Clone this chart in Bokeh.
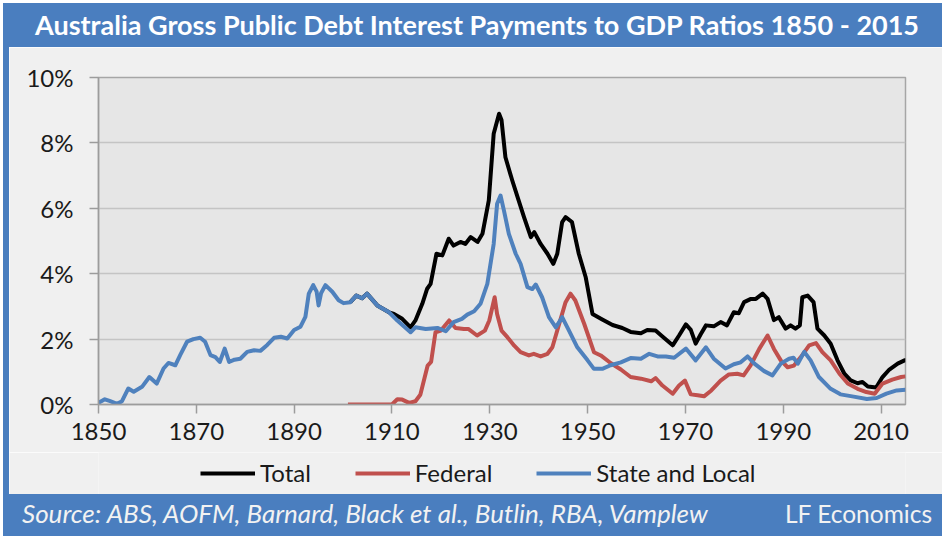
from bokeh.plotting import figure
from bokeh.models import Range1d, FixedTicker, PrintfTickFormatter, Legend, LegendItem, Div
from bokeh.layouts import column, row
from bokeh.embed import file_html
from bokeh.resources import INLINE

# ---------------- data ----------------
title_text = "Australia Gross Public Debt Interest Payments to GDP Ratios 1850 - 2015"
source_text = "Source: ABS, AOFM, Barnard, Black et al., Butlin, RBA, Vamplew"
brand_text = "LF Economics"
series_names = ["Total", "Federal", "State and Local"]
x_ticks = [1850, 1870, 1890, 1910, 1930, 1950, 1970, 1990, 2010]
y_ticks = [0, 2, 4, 6, 8, 10]

state_years = [1850, 1851.3, 1852.4, 1853.8, 1854.8, 1856.1, 1857.2, 1858.9, 1860.4, 1861.9,
               1863.3, 1864.3, 1865.7, 1866.7, 1868.1, 1869.4, 1870.8, 1871.8, 1872.9, 1873.9,
               1874.8, 1875.8, 1876.7, 1877.8, 1879, 1880.4, 1881.8, 1883.1, 1884.5, 1885.9,
               1887.3, 1888.6, 1890, 1891.3, 1892.3, 1893, 1893.9, 1894.6, 1895, 1895.5,
               1896.4, 1897.8, 1899.1, 1900.1, 1901.5, 1902.7, 1903.9, 1904.9, 1907, 1909.4,
               1911.1, 1913.8, 1914.8, 1916.9, 1919.3, 1921, 1922.6, 1924.3, 1925.4, 1926.8,
               1928.1, 1929.5, 1930.8, 1931.5, 1932.2, 1932.9, 1933.9, 1935.3, 1936.3, 1937.7,
               1938.7, 1939.4, 1940.7, 1942.1, 1943.5, 1944.8, 1946.2, 1947.9, 1950, 1951.3,
               1953, 1954.7, 1956.8, 1958.8, 1960.9, 1962.6, 1964.3, 1966, 1967.7, 1970.1,
               1972.1, 1974.2, 1975.8, 1978.2, 1979.9, 1981.3, 1982.7, 1984.1, 1986.1, 1987.8,
               1989.5, 1991.2, 1992.1, 1993, 1994.3, 1995.6, 1997.3, 1999.7, 2001.7, 2004.4,
               2007.1, 2009.1, 2011.1, 2013.2, 2015]
state_vals = [0.05, 0.16, 0.10, 0.02, 0.10, 0.49, 0.39, 0.54, 0.84, 0.64,
              1.10, 1.27, 1.20, 1.51, 1.92, 2.00, 2.04, 1.92, 1.51, 1.45,
              1.30, 1.71, 1.30, 1.37, 1.40, 1.61, 1.66, 1.64, 1.82, 2.04,
              2.07, 2.02, 2.28, 2.38, 2.68, 3.39, 3.65, 3.45, 3.03, 3.40,
              3.65, 3.45, 3.19, 3.10, 3.13, 3.33, 3.25, 3.39, 3.03, 2.82,
              2.57, 2.21, 2.36, 2.31, 2.34, 2.24, 2.52, 2.62, 2.75, 2.85,
              3.08, 3.69, 4.91, 6.14, 6.39, 5.93, 5.22, 4.61, 4.30, 3.59,
              3.53, 3.67, 3.28, 2.67, 2.36, 2.67, 2.26, 1.75, 1.35, 1.09,
              1.09, 1.20, 1.29, 1.42, 1.40, 1.55, 1.47, 1.47, 1.43, 1.71,
              1.35, 1.75, 1.40, 1.10, 1.23, 1.29, 1.47, 1.25, 1.02, 0.89,
              1.25, 1.40, 1.43, 1.25, 1.61, 1.35, 0.84, 0.48, 0.31, 0.24,
              0.17, 0.20, 0.33, 0.43, 0.45]

federal_years = [1901, 1910, 1911.1, 1912.1, 1913.5, 1914.8, 1915.8, 1917.3, 1918, 1918.9,
                 1920, 1921.7, 1923, 1924.7, 1925.6, 1927.4, 1929, 1929.9, 1931, 1931.5,
                 1932.4, 1933.6, 1935, 1936.3, 1938, 1939, 1940.4, 1941.8, 1942.8, 1944.2,
                 1945.5, 1946.5, 1947.5, 1949.3, 1951.3, 1952.7, 1954.7, 1956.8, 1958.8, 1960.9,
                 1963, 1963.9, 1965.3, 1967.4, 1968.7, 1969.9, 1971.1, 1972.5, 1973.8, 1975.3,
                 1977.2, 1978.9, 1980.6, 1981.9, 1983.3, 1985.1, 1986.8, 1988.1, 1989.5, 1990.9,
                 1992.2, 1993.6, 1995.3, 1996.7, 1998, 1999.7, 2001.5, 2003.2, 2005.2, 2007,
                 2008.7, 2010.3, 2012.3, 2014.1, 2015]
federal_vals = [0.00, 0.00, 0.16, 0.15, 0.05, 0.10, 0.30, 1.19, 1.30, 2.21,
                2.26, 2.57, 2.34, 2.31, 2.31, 2.11, 2.26, 2.57, 3.28, 2.77,
                2.26, 2.06, 1.80, 1.60, 1.50, 1.55, 1.47, 1.55, 1.75, 2.47,
                3.13, 3.39, 3.18, 2.47, 1.60, 1.50, 1.27, 1.07, 0.84, 0.79,
                0.71, 0.81, 0.58, 0.33, 0.58, 0.73, 0.31, 0.28, 0.25, 0.43,
                0.73, 0.92, 0.94, 0.89, 1.19, 1.70, 2.11, 1.70, 1.35, 1.14,
                1.19, 1.45, 1.81, 1.88, 1.60, 1.35, 0.94, 0.64, 0.48, 0.38,
                0.33, 0.64, 0.76, 0.84, 0.86]

total_years = [1901.5, 1902.7, 1903.9, 1904.9, 1907, 1909.4, 1910.4, 1912.1, 1913.8, 1914.8,
               1916.2, 1917.2, 1917.9, 1919.1, 1920.3, 1921.6, 1922.6, 1924, 1925, 1926.1,
               1927.5, 1928.5, 1929.8, 1930.8, 1931.9, 1932.4, 1933.2, 1934.6, 1935.9, 1937,
               1938.4, 1939.1, 1940.4, 1941.8, 1943, 1943.8, 1944.8, 1945.5, 1946.8, 1948.2,
               1949.6, 1951, 1953, 1955.1, 1957.1, 1958.8, 1960.9, 1962.2, 1963.9, 1965.3,
               1967.4, 1968.7, 1970.1, 1971.1, 1972.1, 1973.1, 1974.2, 1975.8, 1977.2, 1978.5,
               1979.9, 1980.9, 1982, 1983.4, 1984.4, 1985.8, 1986.8, 1988.1, 1989.1, 1990.5,
               1991.5, 1992.5, 1993.4, 1993.9, 1995, 1996.2, 1997, 1998.4, 1999.7, 2001.1,
               2002.5, 2003.8, 2005.2, 2006.2, 2007.3, 2009, 2010.3, 2011.7, 2013.4, 2014.8, 2015]
total_vals = [3.13, 3.33, 3.25, 3.39, 3.03, 2.82, 2.77, 2.62, 2.36, 2.57,
              3.08, 3.54, 3.69, 4.61, 4.56, 5.07, 4.86, 4.97, 4.91, 5.12,
              4.97, 5.22, 6.24, 8.28, 8.89, 8.70, 7.56, 6.85, 6.24, 5.73,
              5.12, 5.27, 4.91, 4.61, 4.30, 4.61, 5.58, 5.73, 5.58, 4.61,
              3.90, 2.77, 2.60, 2.43, 2.34, 2.22, 2.18, 2.28, 2.26, 2.08,
              1.81, 2.11, 2.45, 2.28, 1.86, 2.14, 2.42, 2.39, 2.52, 2.42,
              2.82, 2.79, 3.13, 3.23, 3.23, 3.39, 3.23, 2.58, 2.67, 2.32,
              2.42, 2.32, 2.42, 3.28, 3.33, 3.13, 2.32, 2.11, 1.86, 1.35,
              0.94, 0.74, 0.65, 0.69, 0.55, 0.52, 0.84, 1.07, 1.25, 1.35, 1.35]

# ---------------- styling ----------------
W = 942
STRIP_W = 9
FIG_W = W - STRIP_W
TITLE_H, MAIN_H, LEG_H, FOOT_H = 47, 405, 42, 42
BLUE = "#4a7ebf"
PANEL = "#f0f0f0"
FONT = "Lato"
TEXT = "#1a1a1a"
COLORS = ["#000000", "#c0504d", "#4f81bd"]
LW = 4
NAN = float("nan")

title_div = Div(
    text=(f'<div style="width:{W}px;height:{TITLE_H}px;background:#ffffff;">'
          f'<div style="margin-left:3px;position:relative;top:3px;width:{W - 3}px;height:{TITLE_H - 3}px;'
          f'background:{BLUE};color:#ffffff;font-family:{FONT};font-weight:bold;font-size:27px;'
          f'line-height:43px;padding-left:32px;box-sizing:border-box;white-space:nowrap;'
          f'overflow:hidden;">{title_text}</div></div>'),
    width=W, height=TITLE_H, margin=0)

footer_div = Div(
    text=(f'<div style="width:{W}px;height:{FOOT_H}px;background:#ffffff;">'
          f'<div style="margin-left:3px;width:{W - 3}px;height:{FOOT_H}px;background:{BLUE};'
          f'color:#f2f2f2;font-family:{FONT};line-height:38.5px;display:flex;'
          f'justify-content:space-between;align-items:baseline;padding-left:19px;'
          f'padding-right:10px;box-sizing:border-box;white-space:nowrap;overflow:hidden;">'
          f'<span style="font-style:italic;font-size:26px;">{source_text}</span>'
          f'<span style="font-size:24.5px;">{brand_text}</span></div></div>'),
    width=W, height=FOOT_H, margin=0)


def strip(height):
    return Div(text=(f'<div style="width:{STRIP_W}px;height:{height}px;background:#ffffff;">'
                     f'<div style="margin-left:3px;width:{STRIP_W - 3}px;height:{height}px;'
                     f'background:{BLUE};"></div></div>'),
               width=STRIP_W, height=height, margin=0)


# main chart
p = figure(width=FIG_W, height=MAIN_H, x_range=Range1d(1850, 2015), y_range=Range1d(0, 10),
           toolbar_location=None, output_backend="svg",
           min_border_left=89, min_border_right=37, min_border_top=30, min_border_bottom=48)
p.background_fill_color = "#e6e6e6"
p.border_fill_color = PANEL
p.outline_line_color = "#a6a6a6"
p.outline_line_width = 1.5
p.xgrid.visible = False
p.ygrid.grid_line_color = "#c4c4c4"
p.ygrid.grid_line_width = 1.5

for ax in (p.xaxis[0], p.yaxis[0]):
    ax.axis_line_color = "#9c9c9c"
    ax.axis_line_width = 1.5
    ax.major_tick_line_color = "#9c9c9c"
    ax.major_tick_line_width = 1.5
    ax.major_tick_in = 0
    ax.major_tick_out = 9
    ax.minor_tick_line_color = None
    ax.major_label_text_font = FONT
    ax.major_label_text_font_size = "24px"
    ax.major_label_text_color = TEXT

p.xaxis.ticker = FixedTicker(ticks=x_ticks)
p.xaxis.major_label_standoff = 9
p.yaxis.ticker = FixedTicker(ticks=y_ticks)
p.yaxis.formatter = PrintfTickFormatter(format="%d%%")
p.yaxis.major_label_standoff = 16

p.line(total_years, total_vals, line_color=COLORS[0], line_width=LW, line_join="round")
p.line(federal_years, federal_vals, line_color=COLORS[1], line_width=LW, line_join="round")
p.line(state_years, state_vals, line_color=COLORS[2], line_width=LW, line_join="round")

# legend strip (its own small figure, aligned with the chart frame)
lf = figure(width=FIG_W, height=LEG_H, x_range=Range1d(0, 1), y_range=Range1d(0, 1),
            x_axis_location=None, y_axis_location=None, toolbar_location=None,
            output_backend="svg", min_border_left=89, min_border_right=37,
            min_border_top=0, min_border_bottom=0)
lf.background_fill_color = PANEL
lf.border_fill_color = PANEL
lf.outline_line_color = None
lf.grid.visible = False
leg_renderers = [lf.line([0, 1], [NAN, NAN], line_color=c, line_width=LW) for c in COLORS]

legend = Legend(items=[LegendItem(label=n, renderers=[r]) for n, r in zip(series_names, leg_renderers)],
                orientation="horizontal", location=(102, 7),
                glyph_width=55, glyph_height=20, label_standoff=5, spacing=44,
                padding=0, margin=0, background_fill_alpha=0, border_line_color=None,
                label_text_font=FONT, label_text_font_size="24px", label_text_color=TEXT)
lf.add_layout(legend)

layout = column(title_div,
                row(strip(MAIN_H), p, spacing=0),
                row(strip(LEG_H), lf, spacing=0),
                footer_div, spacing=0)
open("out.html", "w").write(file_html(layout, INLINE))
